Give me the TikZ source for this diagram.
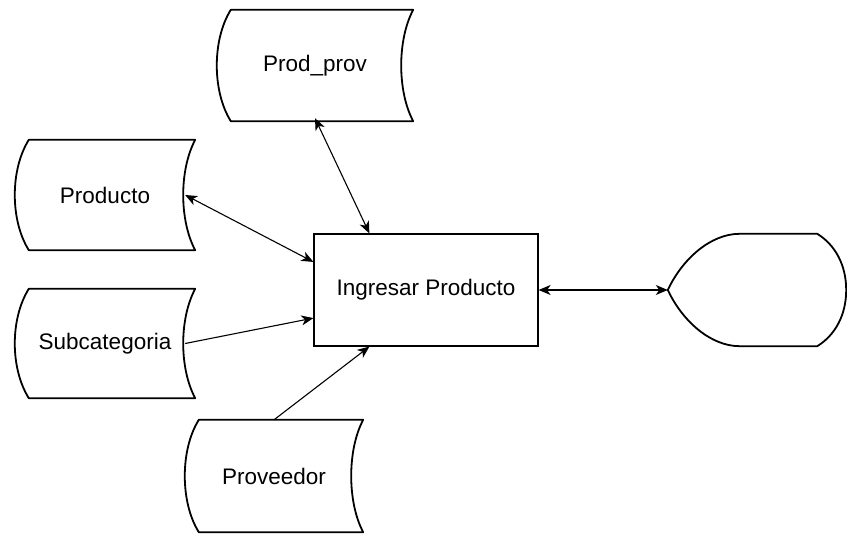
\documentclass[tikz,border=0pt]{standalone}
\usepackage{fontspec}
\setmainfont{Liberation Sans}
\usetikzlibrary{arrows.meta}

\begin{document}
\begin{tikzpicture}[x=1pt,y=-1pt,
    >={Stealth[length=12pt,width=10pt,inset=3.5pt]},
    font=\fontsize{22.5}{27}\selectfont,
    flecha/.style={line width=1.1pt},
    stored/.style={shape=rectangle, inner sep=0pt, minimum width=180pt, minimum height=110pt,
      append after command={\pgfextra{
        \draw[line width=1.8pt, line join=round]
          ([xshift=14pt]\tikzlastnode.north west) -- (\tikzlastnode.north east)
          .. controls +(-16,30) and +(-16,-30) .. (\tikzlastnode.south east)
          -- ([xshift=14pt]\tikzlastnode.south west)
          .. controls +(-18.7,-30) and +(-18.7,30) .. ([xshift=14pt]\tikzlastnode.north west)
          -- cycle;}}},
    display/.style={shape=rectangle, inner sep=0pt, minimum width=178pt, minimum height=112pt,
      append after command={\pgfextra{
        \draw[line width=1.8pt, line join=round]
          (\tikzlastnode.west) .. controls +(14,-30) and +(-30,0) .. ([xshift=72pt]\tikzlastnode.north west)
          -- ([xshift=-29pt]\tikzlastnode.north east)
          .. controls +(18,11) and +(0,-25) .. (\tikzlastnode.east)
          .. controls +(0,25) and +(18,-11) .. ([xshift=-29pt]\tikzlastnode.south east)
          -- ([xshift=72pt]\tikzlastnode.south west)
          .. controls +(-30,0) and +(14,30) .. (\tikzlastnode.west) -- cycle;}}}]
    \useasboundingbox (0,0) rectangle (847,534);

    \node[draw, line width=1.2pt, minimum width=224pt, minimum height=112pt] (ingresar) at (426,290) {Ingresar Producto};

    \node[stored, minimum width=196pt, minimum height=111pt] (prodprov) at (315,65.5) {Prod\_prov};
    \node[stored] (producto) at (105,195) {Producto};
    \node[stored, minimum height=109pt] (subcat) at (105,343.5) {Subcategoria};
    \node[stored, minimum width=178pt, minimum height=112pt] (proveedor) at (274,476) {Proveedor};
    \node[display] (pantalla) at (757,290) {};

    \draw[flecha,<->] ([yshift=3pt]prodprov.south) -- (ingresar.135);
    \draw[flecha,<->] ([xshift=-10pt]producto.east) -- (ingresar.166);
    \draw[flecha,->] ([xshift=-10pt]subcat.east) -- (ingresar.194);
    \draw[flecha,->] (proveedor.north) -- (ingresar.225);
    \draw[flecha,<->] (ingresar.east) -- (pantalla.west);
\end{tikzpicture}
\end{document}
